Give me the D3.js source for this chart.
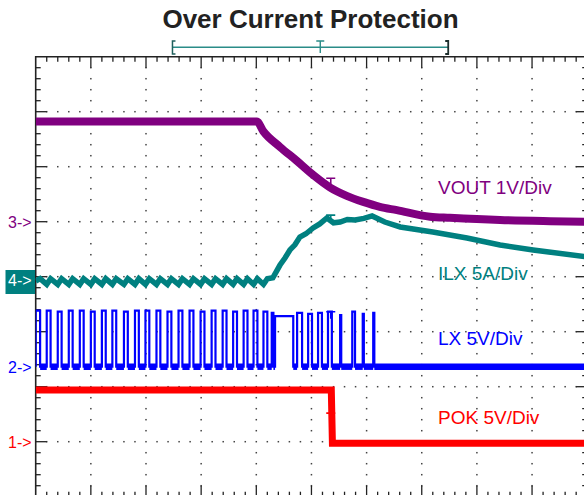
<!DOCTYPE html>
<html>
<head>
<meta charset="utf-8">
<script src="https://cdn.jsdelivr.net/npm/d3@7"></script>
<style>
body { margin: 0; background: #fff; }
svg { display: block; font-family: "Liberation Sans", Arial, sans-serif; }
</style>
</head>
<body>
<div id="scope"></div>
<script>
// time in divisions, values in each channel's own unit
var vout = [[0,1.82],[4.01,1.82],[4.13,1.64],[4.43,1.36],[4.73,1.11],[5.03,0.85],[5.34,0.62],
    [5.64,0.47],[5.94,0.36],[6.24,0.27],[6.55,0.21],[7.15,0.09],[7.51,0.07],[8.42,0.03],[9.33,0.01],[10,0]];

var ilx = [[0,-0.1],[0.08,0.12],
    [0.20,-0.4],[0.27,0.12],[0.40,-0.4],[0.47,0.12],[0.60,-0.4],[0.67,0.12],[0.80,-0.4],[0.87,0.12],
    [1.00,-0.4],[1.07,0.12],[1.20,-0.4],[1.27,0.12],[1.39,-0.4],[1.46,0.12],[1.60,-0.4],[1.67,0.12],
    [1.80,-0.4],[1.87,0.12],[1.99,-0.4],[2.06,0.12],[2.19,-0.4],[2.26,0.12],[2.39,-0.4],[2.46,0.12],
    [2.59,-0.4],[2.66,0.12],[2.79,-0.4],[2.86,0.12],[2.99,-0.4],[3.06,0.12],[3.19,-0.4],[3.26,0.12],
    [3.39,-0.4],[3.46,0.12],[3.58,-0.4],[3.65,0.12],[3.77,-0.4],[3.84,0.12],[3.95,-0.4],[4.02,0.12],
    [4.13,-0.4],[4.20,0.12],[4.30,0.2],[4.43,1.36],[4.52,2.0],[4.61,2.73],[4.70,3.2],[4.79,3.91],
    [4.90,4.2],[5.03,4.73],[5.15,5.1],[5.28,5.64],[5.40,5.2],[5.52,5.27],[5.65,5.5],[5.79,5.45],
    [5.95,5.6],[6.10,5.82],[6.33,5.27],[6.61,4.82],[7.20,4.36],[7.82,3.82],[8.42,3.18],[9.02,2.73],[10,2.09]];

// LX switching pulses: rise time, fall time, top level (V)
var lxRise = [0,0.20,0.40,0.60,0.80,1.00,1.20,1.39,1.60,1.80,1.99,2.19,2.39,2.59,2.79,2.99,3.19,3.39,3.58,3.77,3.95,4.13,
    4.28,4.34,4.74,4.94,5.12,5.30,5.52,5.74,5.93,6.12];
var lxFall = [0.08,0.27,0.47,0.67,0.87,1.07,1.27,1.46,1.67,1.87,2.06,2.26,2.46,2.66,2.86,3.06,3.26,3.46,3.65,3.84,4.02,4.20,
    4.31,4.67,4.83,5.01,5.19,5.37,5.54,5.79,5.95,6.14];
var lxTop = [5.1,5.1,5.0,5.1,5.1,5.0,5.1,5.1,5.0,5.1,5.1,5.1,5.0,5.1,5.1,5.0,5.1,5.1,5.0,5.1,5.1,5.0,
    4.9,4.6,4.9,4.8,4.9,5.0,4.7,5.0,4.8,4.9];

var pok = [[0,4.7],[5.36,4.7],[5.38,-0.15],[10,-0.15]];

var trigT = 5.35;
var trigLevels = [0.79, 5.9, 5.0, 2.6];   // VOUT, ILX, LX, POK
var labels = ["VOUT 1V/Div", "ILX 5A/Div", "LX 5V/Div", "POK 5V/Div"];
var markers = ["3->", "4->", "2->", "1->"];

var W = 584, H = 495;
var x = d3.scaleLinear().domain([0, 10]).range([35.7, 587.2]);
var y = d3.scaleLinear().domain([0, 8]).range([496.7, 56.7]);

var ch = [
    {data: vout, gnd: 5.0, per: 1, color: "#800080", w: 8, curve: d3.curveMonotoneX, label: labels[0], ly: 193.5, mark: markers[0]},
    {data: ilx, gnd: 3.94, per: 5, color: "#008080", w: 5.5, curve: d3.curveLinear, label: labels[1], ly: 280, mark: markers[1]},
    {data: null, gnd: 2.364, per: 5, color: "#0000ff", w: 2.2, curve: d3.curveLinear, label: labels[2], ly: 345, mark: markers[2]},
    {data: pok, gnd: 1.0, per: 5, color: "#ff0000", w: 7, curve: d3.curveLinear, label: labels[3], ly: 423.5, mark: markers[3]}
];

// build LX waveform from the pulse list
var lx = [];
lxRise.forEach(function(r, i) {
    lx.push([r, 0], [r, lxTop[i]], [lxFall[i], lxTop[i]], [lxFall[i], 0]);
});
lx.push([10, 0]);
ch[2].data = lx;
var lxLow = lxRise.map(function(r, i) {
    return [[lxFall[i], 0], [i + 1 < lxRise.length ? lxRise[i + 1] : 10, 0]];
});

var svg = d3.select("#scope").append("svg")
    .attr("width", W)
    .attr("height", H);

svg.append("defs").append("clipPath").attr("id", "plot")
    .append("rect")
    .attr("x", x(0)).attr("y", y(8))
    .attr("width", x(10) - x(0)).attr("height", y(0) - y(8));

svg.append("text")
    .attr("x", 310.5).attr("y", 28)
    .attr("text-anchor", "middle")
    .attr("font-size", "26px")
    .attr("font-weight", "bold")
    .attr("fill", "#222")
    .text("Over Current Protection");

// dotted grid on the major lines
var grid = svg.append("g").attr("fill", "#444");
d3.range(1, 10).forEach(function(i) {
    d3.range(0, 40).forEach(function(j) {
        grid.append("rect").attr("x", x(i) - 0.75).attr("y", y(j / 5) - 0.75)
            .attr("width", 1.5).attr("height", 1.5);
    });
});
d3.range(1, 8).forEach(function(k) {
    d3.range(1, 50).forEach(function(j) {
        if (j % 5 == 0) return;
        grid.append("rect").attr("x", x(j / 5) - 0.75).attr("y", y(k) - 0.75)
            .attr("width", 1.5).attr("height", 1.5);
    });
});

// frame with ticks
var frame = svg.append("g").attr("stroke", "#222").attr("fill", "none");
frame.append("path")
    .attr("d", "M" + x(10) + "," + y(8) + "H" + x(0) + "V" + y(0))
    .attr("stroke-width", 1.6);
frame.append("path")
    .attr("d", "M" + x(0) + "," + y(0) + "H" + x(10) + "V" + y(8))
    .attr("stroke-width", 1.6);
d3.range(1, 50).forEach(function(j) {
    var len = j % 5 == 0 ? 11 : 5;
    frame.append("line").attr("x1", x(j / 5)).attr("x2", x(j / 5))
        .attr("y1", y(8)).attr("y2", y(8) + len).attr("stroke-width", 1.3);
    frame.append("line").attr("x1", x(j / 5)).attr("x2", x(j / 5))
        .attr("y1", y(0)).attr("y2", y(0) - len).attr("stroke-width", 1.3);
});
d3.range(1, 40).forEach(function(j) {
    var len = j % 5 == 0 ? 11 : 5;
    frame.append("line").attr("y1", y(j / 5)).attr("y2", y(j / 5))
        .attr("x1", x(0)).attr("x2", x(0) + len).attr("stroke-width", 1.3);
    frame.append("line").attr("y1", y(j / 5)).attr("y2", y(j / 5))
        .attr("x1", x(10)).attr("x2", x(10) - len).attr("stroke-width", 1.3);
});

// record bracket and trigger position
var br = svg.append("g").attr("fill", "none");
br.append("line").attr("x1", x(2.48)).attr("x2", x(7.48)).attr("y1", 47.3).attr("y2", 47.3)
    .attr("stroke", "#2a8c88").attr("stroke-width", 1.4);
br.append("path").attr("d", "M" + (x(2.48) + 3) + ",41H" + x(2.48) + "V54H" + (x(2.48) + 3))
    .attr("stroke", "#1f5f5c").attr("stroke-width", 1.5);
br.append("path").attr("d", "M" + (x(7.48) - 3) + ",41H" + x(7.48) + "V54H" + (x(7.48) - 3))
    .attr("stroke", "#1d2e2d").attr("stroke-width", 1.8);
br.append("path").attr("d", "M" + (x(5.16) - 4) + ",41H" + (x(5.16) + 4) + "M" + x(5.16) + ",41V53")
    .attr("stroke", "#2a8c88").attr("stroke-width", 1.4);

// traces
var traces = svg.append("g").attr("clip-path", "url(#plot)");
ch.forEach(function(c) {
    var line = d3.line()
        .curve(c.curve)
        .x(function(d) { return x(d[0]); })
        .y(function(d) { return y(c.gnd + d[1] / c.per); });
    traces.append("path")
        .datum(c.data)
        .attr("d", line)
        .attr("fill", "none")
        .attr("stroke", c.color)
        .attr("stroke-width", c.w)
        .attr("stroke-linejoin", "miter")
        .attr("stroke-linecap", "butt");
    if (c === ch[2]) {
        lxLow.forEach(function(seg) {
            traces.append("path").datum(seg).attr("d", line)
                .attr("fill", "none").attr("stroke", c.color).attr("stroke-width", 6.5);
        });
    }
});

// trigger marks on each trace
ch.forEach(function(c, i) {
    var ty = y(c.gnd + trigLevels[i] / c.per);
    traces.append("path")
        .attr("d", "M" + (x(trigT) - 4.5) + "," + ty + "H" + (x(trigT) + 4.5) + "M" + x(trigT) + "," + ty + "V" + (ty + 7))
        .attr("fill", "none")
        .attr("stroke", c.color)
        .attr("stroke-width", 1.6);
});

// channel labels
ch.forEach(function(c) {
    svg.append("text")
        .attr("x", 438).attr("y", c.ly)
        .attr("font-size", "19px")
        .attr("fill", c.color)
        .text(c.label);
});

// ground markers at left
ch.forEach(function(c, i) {
    var gy = y(c.gnd);
    if (i == 1) {
        svg.append("rect").attr("x", 5.5).attr("y", gy - 10).attr("width", 29.5).attr("height", 24)
            .attr("fill", "#008080");
    }
    svg.append("text")
        .attr("x", 8).attr("y", gy + 6)
        .attr("font-size", "16px")
        .attr("fill", i == 1 ? "#fff" : c.color)
        .text(c.mark);
});
</script>
</body>
</html>
